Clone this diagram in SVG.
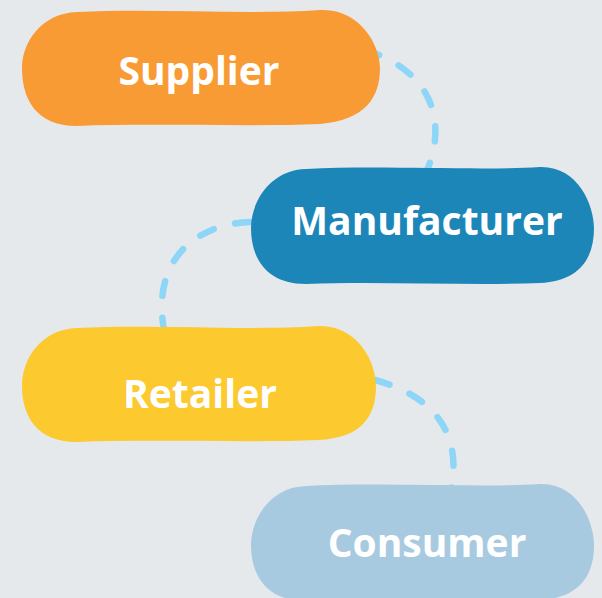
<svg xmlns="http://www.w3.org/2000/svg" width="602" height="598" viewBox="0 0 602 598">
<style>
.conn{fill:none;stroke:#8DD6F7;stroke-width:6.5;stroke-linecap:round;stroke-dasharray:15 22}
.lbl{font-family:"Open Sans","Liberation Sans",sans-serif;font-weight:700;font-size:39px;fill:#FFFFFF;text-anchor:middle}
</style>
<rect width="602" height="598" fill="#E5E9EC"/>
<g id="connectors">
<path class="conn" d="M 365,50 C 430,70 450,120 425,175"/>
<path class="conn" d="M 250,222 C 190,225 150,265 165,335"/>
<path class="conn" d="M 375,380 C 430,395 465,430 450,495"/>
</g>
<g id="supplier">
<path fill="#F99B34" d="M 77,12 C 150,8 250,15 320,10 C 360,8 380,45 380,68 C 380,98 365,120 320,124 C 250,127 150,123 77,126 C 35,126 22,98 22,68 C 22,42 42,13 77,12 Z"/>
<text class="lbl" x="199" y="85">Supplier</text>
</g>
<g id="manufacturer">
<path fill="#1D86B9" d="M 306,169 C 380,165 480,171 540,167 C 578,166 594,205 594,228 C 594,258 580,281 540,283 C 470,286 380,281 306,284 C 266,284 251,258 251,228 C 251,202 270,170 306,169 Z"/>
<text class="lbl" x="427" y="235">Manufacturer</text>
</g>
<g id="retailer">
<path fill="#FCC92F" d="M 77,328 C 150,324 250,331 318,326 C 358,325 376,362 376,386 C 376,416 362,438 318,440 C 250,443 150,439 77,442 C 35,442 22,414 22,386 C 22,358 42,329 77,328 Z"/>
<text class="lbl" x="200" y="408">Retailer</text>
</g>
<g id="consumer">
<path fill="#A8CAE0" d="M 306,486 C 380,482 480,488 540,484 C 578,483 594,522 594,545 C 594,575 580,598 540,600 C 470,603 380,598 306,601 C 266,601 251,575 251,545 C 251,519 270,487 306,486 Z"/>
<text class="lbl" x="427" y="557">Consumer</text>
</g>
</svg>
